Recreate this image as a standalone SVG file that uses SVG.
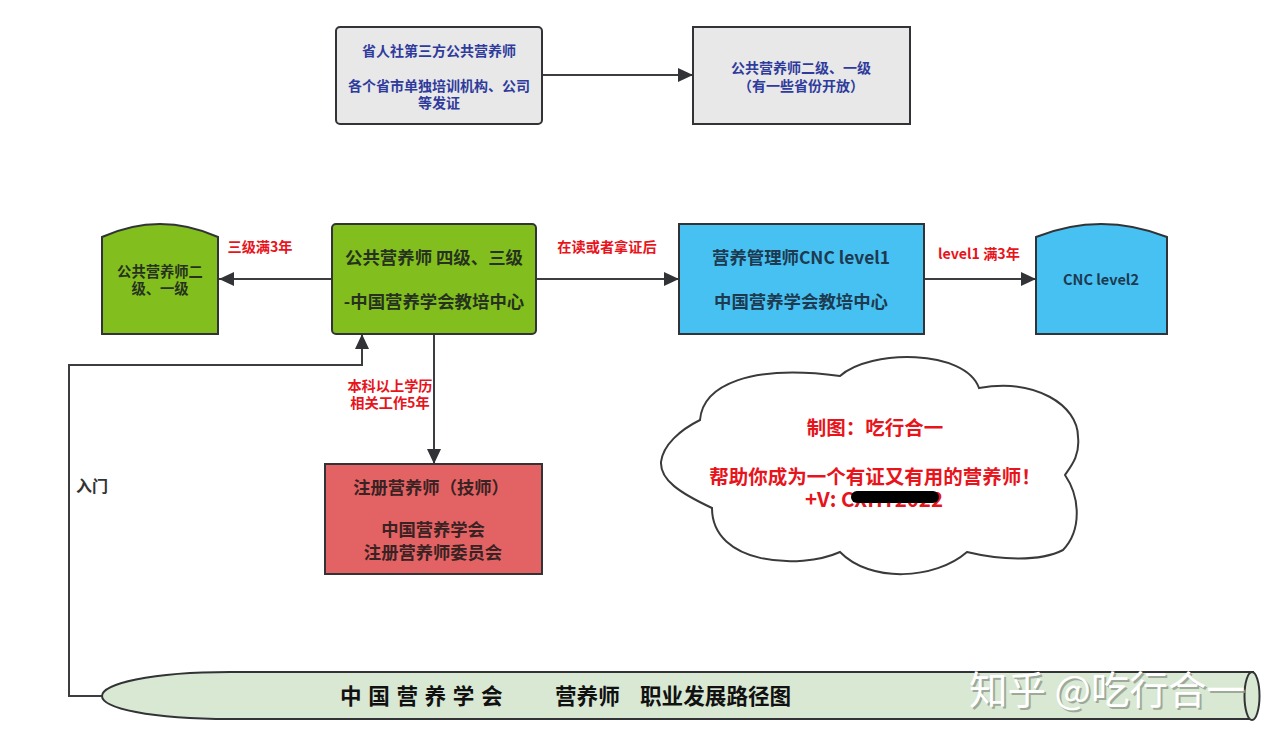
<svg xmlns="http://www.w3.org/2000/svg" width="1280" height="742" viewBox="0 0 1280 742">
<style>
text{font-family:"Noto Sans CJK SC","Noto Sans",sans-serif;font-weight:700;text-anchor:middle}
.s{stroke:#323337;stroke-width:2}
.c{fill:none;stroke:#3c3d40;stroke-width:2}
.b{fill:#2f3b9c;font-size:14px}
.r{fill:#e8141c;font-size:14.2px}
.k{fill:#26321f;font-size:17.4px}
.u{fill:#1d3a50;font-size:17.4px}
.m{fill:#3a2222;font-size:17.3px}
.g{fill:#26321f;font-size:14.3px}
.e{fill:#e8141c}
.w{font-size:38.500px;font-weight:400}
</style>
<defs><marker id="a" markerUnits="userSpaceOnUse" markerWidth="16" markerHeight="14" refX="15" refY="7" orient="auto"><path d="M0 0L15 7L0 14Z" fill="#323337"/></marker></defs>
<rect width="1280" height="742" fill="#fff"/>
<g id="connectors">
<path class="c" d="M542 75H693" marker-end="url(#a)"/>
<path class="c" d="M332 279H219" marker-end="url(#a)"/>
<path class="c" d="M536 279H679" marker-end="url(#a)"/>
<path class="c" d="M924 279H1036" marker-end="url(#a)"/>
<path class="c" d="M434 334V464" marker-end="url(#a)"/>
<path class="c" d="M102 696H69V365H362V334" marker-end="url(#a)"/>
</g>
<g id="n1"><rect class="s" x="336" y="27" width="206" height="97" rx="4" fill="#e8e8e8"/>
<text class="b" x="439" y="56">省人社第三方公共营养师</text><text class="b" x="439" y="91">各个省市单独培训机构、公司</text><text class="b" x="439" y="108">等发证</text></g>
<g id="n2"><rect class="s" x="693" y="27" width="217" height="97" fill="#e8e8e8"/>
<text class="b" x="801" y="73">公共营养师二级、一级</text><text class="b" x="801" y="91">（有一些省份开放）</text></g>
<g id="n3"><path class="s" d="M102 237Q160 211 218 237V334H102Z" fill="#82bf1e"/>
<text class="g" x="160" y="277">公共营养师二</text><text class="g" x="160" y="294">级、一级</text></g>
<g id="n4"><rect class="s" x="332" y="224" width="204" height="110" rx="4" fill="#82bf1e"/>
<text class="k" x="434" y="264">公共营养师 四级、三级</text><text class="k" x="434" y="308">-中国营养学会教培中心</text></g>
<g id="n5"><rect class="s" x="679" y="224" width="245" height="110" fill="#47c1f2"/>
<text class="u" x="801" y="264">营养管理师CNC level1</text><text class="u" x="801" y="308">中国营养学会教培中心</text></g>
<g id="n6"><path class="s" d="M1036 237Q1101 211 1167 237V334H1036Z" fill="#47c1f2"/>
<text x="1101" y="285" fill="#1d3a50" font-size="14.500">CNC level2</text></g>
<g id="n7"><rect class="s" x="325" y="464" width="217" height="110" fill="#e36264"/>
<text class="m" x="431" y="494">注册营养师（技师）</text><text class="m" x="433" y="536">中国营养学会</text><text class="m" x="433" y="559">注册营养师委员会</text></g>
<g id="cloud"><path d="M700 420C703 385 750 364 840 376C870 349 965 349 979 388C1035 378 1078 405 1078 437C1080 455 1072 465 1065 475C1080 497 1082 530 1063 550C1040 562 1000 560 967 552C935 580 870 583 840 552C800 570 712 565 712 508C680 493 660 480 661 462C663 445 680 430 700 420Z" fill="#fff" stroke="#3a3a3a" stroke-width="2"/>
<text class="e" x="875" y="435" font-size="19.500">制图：吃行合一</text><text class="e" x="875" y="484" font-size="19.500">帮助你成为一个有证又有用的营养师！</text><text class="e" x="874" y="507" font-size="20.500">+V: CXHY2022</text>
<rect x="851" y="491" width="88" height="12" rx="6" fill="#000"/></g>
<g id="labels">
<text class="r" x="260" y="252">三级满3年</text><text class="r" x="607" y="252">在读或者拿证后</text><text class="r" x="979" y="259">level1 满3年</text>
<text class="r" x="390" y="391">本科以上学历</text><text class="r" x="390" y="408">相关工作5年</text>
<text x="92" y="492" fill="#333" font-size="16">入门</text></g>
<g id="n8"><path class="s" d="M1253 672H230C150 672 102 684 102 696C102 708 150 719 230 719H1253Z" fill="#d9e8d3"/>
<ellipse class="s" cx="1252" cy="696" rx="7.500" ry="24" fill="#d9e8d3"/>
<text x="340" y="704" fill="#111" font-size="21.600" letter-spacing="6.600" style="text-anchor:start">中国营养学会</text><text x="555" y="704" fill="#111" font-size="21.600" style="text-anchor:start">营养师</text><text x="640" y="704" fill="#111" font-size="21.600" style="text-anchor:start">职业发展路径图</text></g>
<g id="watermark"><text class="w" x="1109" y="706" fill="#8f9b8c" opacity=".8">知乎 @吃行合一</text><text class="w" x="1107" y="704" fill="#fff">知乎 @吃行合一</text></g>
</svg>
